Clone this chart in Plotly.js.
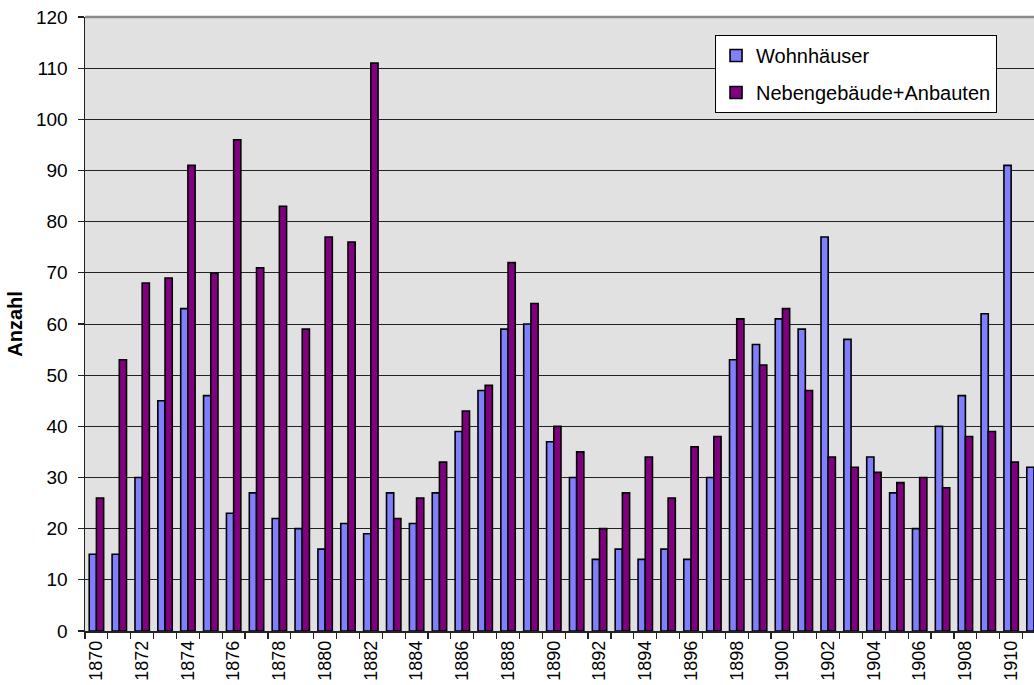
<!DOCTYPE html>
<html>
<head>
<meta charset="utf-8">
<script src="https://cdn.plot.ly/plotly-3.0.1.min.js"></script>
<style>html,body{margin:0;padding:0;background:#fff;}#chart{width:1034px;height:685px;}</style>
</head>
<body>
<div id="chart"></div>
<script>
const years = [1870,1871,1872,1873,1874,1875,1876,1877,1878,1879,
  1880,1881,1882,1883,1884,1885,1886,1887,1888,1889,
  1890,1891,1892,1893,1894,1895,1896,1897,1898,1899,
  1900,1901,1902,1903,1904,1905,1906,1907,1908,1909,
  1910,1911];
const wohnhaeuser = [15,15,30,45,63,46,23,27,22,20,
  16,21,19,27,21,27,39,47,59,60,
  37,30,14,16,14,16,14,30,53,56,
  61,59,77,57,34,27,20,40,46,62,
  91,32];
const nebengebaeude = [26,53,68,69,91,70,96,71,83,59,
  77,76,111,22,26,33,43,48,72,64,
  40,35,20,27,34,26,36,38,61,52,
  63,47,34,32,31,29,30,28,38,39,
  33,null];
const seriesNames = ["Wohnhäuser", "Nebengebäude+Anbauten"];
const yTitle = "Anzahl";

const font = "Liberation Sans, Arial, sans-serif";

const traces = [
  {type:"bar", name:seriesNames[0], x:years, y:wohnhaeuser, legendgroup:"a",
   marker:{color:"#8080FF", line:{color:"#000", width:1.6}}},
  {type:"bar", name:seriesNames[1], x:years, y:nebengebaeude, legendgroup:"b",
   marker:{color:"#800080", line:{color:"#000", width:1.6}}}
];

const layout = {
  width:1034, height:685,
  margin:{l:85, r:0, t:17, b:54},
  paper_bgcolor:"#ffffff",
  plot_bgcolor:"#E1E1E1",
  font:{family:font, color:"#000", size:17},
  barmode:"group",
  bargap:0.37,
  bargroupgap:0,
  showlegend:true,
  legend:{
    x:0.6639, xanchor:"left", y:0.9707, yanchor:"top",
    bgcolor:"#ffffff", bordercolor:"#000", borderwidth:1,
    font:{family:font, size:20, color:"#000"},
    tracegroupgap:8, traceorder:"grouped"
  },
  xaxis:{
    type:"linear",
    range:[1869.5, 1911.0],
    tickmode:"linear", tick0:1870, dtick:2,
    ticks:"", tickangle:-90,
    tickfont:{family:font, size:18, color:"#000"},
    ticklabelstandoff:1,
    showgrid:false, zeroline:false,
    showline:true, linecolor:"#222", linewidth:1.5,
    minor:{ticks:"outside", tick0:1869.5, dtick:1, ticklen:6, tickcolor:"#222", tickwidth:1.2, showgrid:false}
  },
  yaxis:{
    range:[0,120],
    tickmode:"linear", tick0:0, dtick:10,
    ticks:"outside", ticklen:6, tickcolor:"#222", tickwidth:1.2,
    tickfont:{family:font, size:19, color:"#000"},
    ticklabelstandoff:6,
    showgrid:true, gridcolor:"#222", gridwidth:1,
    zeroline:false,
    showline:true, linecolor:"#222", linewidth:1.5,
    title:{text:"<b>"+yTitle+"</b>", font:{family:font, size:20, color:"#000"}, standoff:8}
  },
  shapes:[
    {type:"line", xref:"paper", yref:"paper", x0:0, x1:1, y0:1, y1:1,
     line:{color:"#8a8a8a", width:2.5}, layer:"above"}
  ]
};

Plotly.newPlot("chart", traces, layout, {displayModeBar:false, staticPlot:true});
</script>
</body>
</html>
